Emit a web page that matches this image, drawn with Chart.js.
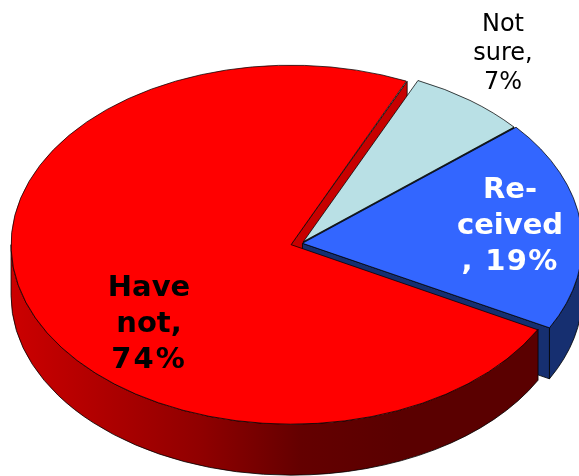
<!DOCTYPE html>
<html>
<head>
<meta charset="utf-8">
<style>html,body{margin:0;padding:0;background:#fff}#w{width:579px;height:476px;position:relative}</style>
<script src="https://cdn.jsdelivr.net/npm/chart.js@4"></script>
</head>
<body>
<div id="w"><canvas id="c" width="579" height="476"></canvas></div>
<script>
const categories = ['Not sure', 'Received', 'Have not'];
const values = [7, 19, 74];
const labelLines = [['Not', 'sure,', '7%'], ['Re-', 'ceived', ', 19%'], ['Have', 'not,', '74%']];
const lastLineSpacing = ['0px', '1.3px', '2px'];
const topColors = ['#b9e0e5', '#3366ff', '#ff0000'];
const wallColors = ['#223033', '#162f70', '#c80000'];
const offsets = [0, 24, 23];
const nudgeX = [7, 0, 0];
const nudgeY = [-1.5, 0.7, 0.5];
const radii = [276, 280, 280];
const labelColors = ['#000000', '#ffffff', '#000000'];
const labelFonts = ['24px "DejaVu Sans"', 'bold 29px "DejaVu Sans"', 'bold 29px "DejaVu Sans"'];
const labelX = [503, 510, 149];
const labelBaseline = [31, 198, 296];
const labelLeading = [29, 36, 36];
const squash = 0.641;
const depth = 51;
const wallOrder = [2, 0, 1];
const bandOrder = [1, 2];

function geom(chart, arc, i) {
  const off = offsets[i] / 4;
  const half = (arc.startAngle + arc.endAngle) / 2;
  const fix = 1 - Math.sin(Math.min(Math.PI, arc.circumference));
  const cy = (chart.chartArea.top + chart.chartArea.bottom) / 2;
  return {
    px: arc.x + Math.cos(half) * off,
    py: cy + (arc.y - cy + Math.sin(half) * off) * squash,
    r: arc.outerRadius + off * fix,
    a0: arc.startAngle,
    a1: arc.endAngle
  };
}
function wall(ctx, g, a, color) {
  const ex = g.px + g.r * Math.cos(a), ey = g.py + g.r * squash * Math.sin(a);
  ctx.beginPath();
  ctx.moveTo(g.px, g.py);
  ctx.lineTo(ex, ey);
  ctx.lineTo(ex, ey + depth);
  ctx.lineTo(g.px, g.py + depth);
  ctx.closePath();
  ctx.fillStyle = color;
  ctx.fill();
  ctx.stroke();
}
const pie3d = {
  id: 'pie3d',
  afterDatasetUpdate(chart, args) {
    args.meta && args.meta.data.forEach((arc, i) => {
      const off = offsets[i] / 4;
      const fix = 1 - Math.sin(Math.min(Math.PI, arc.circumference));
      arc.outerRadius = radii[i] - off * fix;
      arc.x += nudgeX[i];
      arc.y += nudgeY[i] / squash;
    });
  },
  beforeDatasetDraw(chart, args) {
    const ctx = chart.ctx;
    const arcs = args.meta.data;
    ctx.save();
    ctx.lineWidth = 0.8;
    ctx.strokeStyle = '#000';
    wallOrder.forEach(i => {
      const g = geom(chart, arcs[i], i);
      wall(ctx, g, g.a1, wallColors[i]);
    });
    bandOrder.forEach(i => {
      const g = geom(chart, arcs[i], i);
      const lo = Math.max(g.a0, 0), hi = Math.min(g.a1, Math.PI);
      ctx.beginPath();
      ctx.ellipse(g.px, g.py, g.r, g.r * squash, 0, lo, hi);
      ctx.ellipse(g.px, g.py + depth, g.r, g.r * squash, 0, hi, lo, true);
      ctx.closePath();
      if (i === 2) {
        const gr = ctx.createLinearGradient(11, 0, 537, 0);
        gr.addColorStop(0, '#cc0000');
        gr.addColorStop(0.36, '#900000');
        gr.addColorStop(0.55, '#640000');
        gr.addColorStop(0.74, '#5a0000');
        gr.addColorStop(1, '#5a0000');
        ctx.fillStyle = gr;
      } else {
        ctx.fillStyle = wallColors[i];
      }
      ctx.fill();
      ctx.stroke();
    });
    ctx.restore();
    ctx.save();
    const cy = (chart.chartArea.top + chart.chartArea.bottom) / 2;
    ctx.translate(0, cy);
    ctx.scale(1, squash);
    ctx.translate(0, -cy);
  },
  afterDatasetDraw(chart) {
    chart.ctx.restore();
  },
  afterDraw(chart) {
    const ctx = chart.ctx;
    ctx.save();
    ctx.textAlign = 'center';
    ctx.textBaseline = 'alphabetic';
    labelLines.forEach((lines, i) => {
      ctx.font = labelFonts[i];
      ctx.fillStyle = labelColors[i];
      lines.forEach((t, j) => {
        ctx.letterSpacing = j === 2 ? lastLineSpacing[i] : '0px';
        ctx.fillText(t, labelX[i], labelBaseline[i] + j * labelLeading[i]);
      });
    });
    ctx.restore();
  }
};
new Chart(document.getElementById('c'), {
  type: 'pie',
  plugins: [pie3d],
  data: {
    labels: categories,
    datasets: [{
      data: values,
      backgroundColor: topColors,
      borderColor: '#000000',
      borderWidth: 0.9,
      offset: offsets,
      clip: false
    }]
  },
  options: {
    responsive: false,
    animation: false,
    rotation: 24.5,
    radius: 280,
    layout: { padding: { left: 14, top: 10 } },
    plugins: { legend: { display: false }, tooltip: { enabled: false } }
  }
});
</script>
</body>
</html>
